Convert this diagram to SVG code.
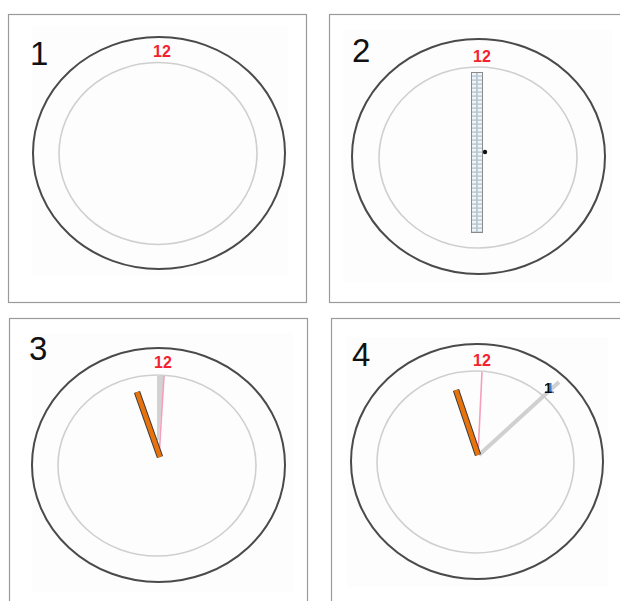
<svg xmlns="http://www.w3.org/2000/svg" width="620" height="601" viewBox="0 0 620 601">
<style>
.frame{fill:#fff;stroke:#9a9a9a;stroke-width:1.2}
.bg{fill:#fdfdfd;stroke:none}
.outer{fill:none;stroke:#4a4a4a;stroke-width:2}
.inner{fill:none;stroke:#cfcfcf;stroke-width:1.6}
.twelve{font-family:"Liberation Sans",Arial,sans-serif;font-weight:bold;font-size:16px;fill:#f22230;text-anchor:middle}
.num{font-family:"Liberation Sans",Arial,sans-serif;font-size:33px;fill:#111}
.pink{stroke:#f4a0b8;stroke-width:1.6;fill:none}
.grey{stroke:#d0d0d0;stroke-width:4;fill:none;stroke-linecap:butt}
</style>
<defs>
<pattern id="grid" x="471" y="72" width="6" height="4" patternUnits="userSpaceOnUse">
<rect width="6" height="4" fill="#b8c6d0"/>
<rect x="0.8" y="0.8" width="4.2" height="2.6" fill="#eef4f8"/>
</pattern>
<filter id="blueShadow" x="-50%" y="-50%" width="200%" height="200%">
<feDropShadow dx="2" dy="0" stdDeviation="0.3" flood-color="#3a7fd0" flood-opacity="1"/>
</filter>
</defs>
<rect width="620" height="601" fill="#fff"/>

<g id="panel1">
<rect class="frame" x="8.5" y="14.5" width="298" height="288"/>
<rect class="bg" x="32" y="26" width="256" height="250"/>
<ellipse class="outer" cx="159" cy="153" rx="126" ry="116"/>
<ellipse class="inner" cx="158" cy="153.5" rx="99" ry="91"/>
<text class="twelve" x="162" y="57">12</text>
<text class="num" x="30" y="65">1</text>
</g>

<g id="panel2">
<rect class="frame" x="329.5" y="14.5" width="300" height="288"/>
<rect class="bg" x="343" y="30" width="269" height="252"/>
<ellipse class="outer" cx="478.5" cy="156.5" rx="126.5" ry="117.5"/>
<ellipse class="inner" cx="478" cy="157.5" rx="99" ry="90.5"/>
<text class="twelve" x="482" y="62">12</text>
<text class="num" x="352" y="62">2</text>
<rect x="471.5" y="72.5" width="11" height="160" fill="url(#grid)" stroke="#8a8a8a" stroke-width="1"/>
<circle cx="485" cy="152" r="2.2" fill="#111"/>
</g>

<g id="panel3">
<rect class="frame" x="9.5" y="318.5" width="298" height="300"/>
<rect class="bg" x="32" y="333" width="261" height="259"/>
<ellipse class="outer" cx="158.5" cy="465" rx="126.5" ry="117"/>
<ellipse class="inner" cx="157" cy="465.5" rx="99" ry="90.5"/>
<text class="twelve" x="163" y="368">12</text>
<text class="num" x="29" y="360">3</text>
<polygon points="157,376 164,376 159,440 157,440" fill="#d2d2d2"/>
<line class="pink" x1="164" y1="376" x2="159" y2="457"/>
<line x1="137" y1="392" x2="160" y2="457" stroke="#3a3a3a" stroke-width="6.5"/>
<line x1="137" y1="392" x2="160" y2="457" stroke="#e8720c" stroke-width="4.5"/>
</g>

<g id="panel4">
<rect class="frame" x="331.5" y="318.5" width="300" height="300"/>
<rect class="bg" x="347" y="337" width="261" height="250"/>
<ellipse class="outer" cx="477" cy="461.5" rx="126" ry="117.5"/>
<ellipse class="inner" cx="475.5" cy="462" rx="98.5" ry="91"/>
<text class="twelve" x="482" y="366">12</text>
<text class="num" x="352" y="366">4</text>
<line class="pink" x1="482" y1="372" x2="478" y2="455"/>
<line class="grey" x1="479" y1="455" x2="559" y2="382"/>
<line x1="456" y1="390" x2="478" y2="455" stroke="#3a3a3a" stroke-width="6.5"/>
<line x1="456" y1="390" x2="478" y2="455" stroke="#e8720c" stroke-width="4.5"/>
<text x="544" y="393" font-family="'Liberation Sans',Arial,sans-serif" font-weight="bold" font-size="15" fill="#111" filter="url(#blueShadow)">1</text>
</g>
</svg>
